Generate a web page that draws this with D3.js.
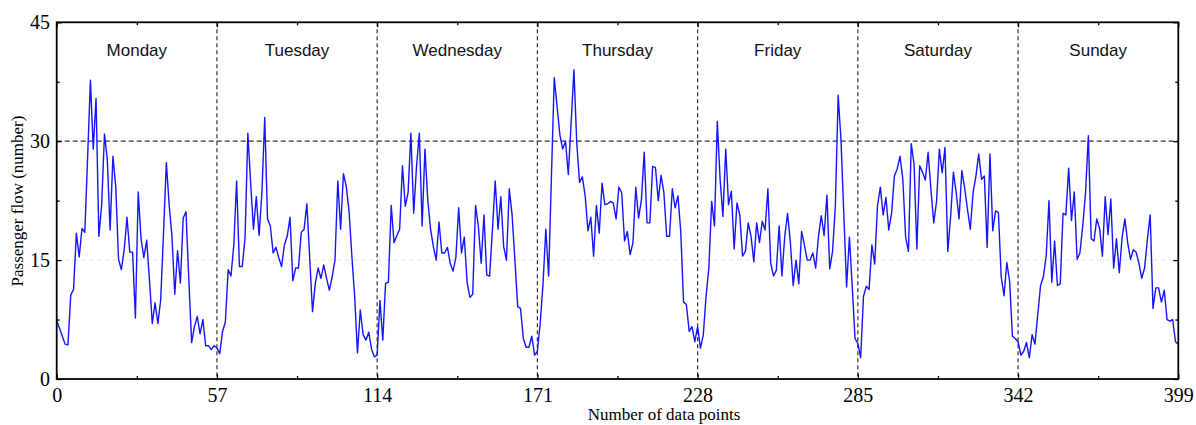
<!DOCTYPE html>
<html>
<head>
<meta charset="utf-8">
<script src="https://cdn.jsdelivr.net/npm/d3@7"></script>
<style>
  html, body { margin: 0; padding: 0; background: #fff; }
  svg { display: block; }
</style>
</head>
<body>
<svg id="chart" width="1196" height="425"></svg>
<script>
// ---- data (passenger flow per data point, grouped by day) ----
const days = ["Monday", "Tuesday", "Wednesday", "Thursday", "Friday", "Saturday", "Sunday"];
const dayStarts = [0, 57, 114, 171, 228, 285, 342];
const dayEnd = 399;

const monday = [7.4,6.4,5.4,4.4,4.3,10.6,11.3,18.4,15.4,19.0,18.5,28.0,37.7,29.0,35.4,18.0,22.0,30.9,27.7,18.8,28.1,24.3,15.1,13.8,16.3,20.4,16.0,16.0,7.7,23.6,17.7,15.3,17.5,12.5,7.0,9.6,7.0,10.0,18.4,27.3,22.0,18.0,10.7,16.2,12.1,20.3,21.1,12.5,4.6,6.6,7.9,5.7,7.5,4.2,4.2,3.7,4.2];
const tuesday = [3.9,3.2,6.0,7.2,13.8,13.0,16.9,25.0,14.2,14.2,17.8,31.0,24.7,18.9,23.0,18.1,23.5,33.0,20.2,19.3,15.9,16.6,15.3,14.2,16.9,18.0,20.4,12.4,14.0,14.0,18.5,18.9,22.1,15.3,8.5,12.1,14.0,12.7,14.4,12.7,11.2,12.9,15.0,25.0,18.9,25.9,24.3,21.2,15.5,10.4,3.3,8.7,5.6,4.9,5.9,3.8,2.8];
const wednesday = [3.0,9.9,4.9,12.1,12.2,21.9,17.2,18.1,18.9,26.9,21.8,23.5,31.0,20.9,26.8,31.0,19.3,29.0,22.6,18.9,16.7,15.0,19.8,15.9,15.9,16.6,14.6,13.6,15.3,21.6,15.9,17.9,12.2,10.3,10.7,21.9,19.3,14.6,20.7,13.1,13.0,18.8,25.0,18.9,23.0,16.7,15.0,24.0,20.7,15.0,9.1,8.9,5.1,4.0,4.0,5.4,3.0];
const thursday = [3.5,7.0,12.0,18.9,13.0,25.6,38.0,34.4,30.8,29.0,30.0,25.8,32.3,39.0,29.8,24.8,25.5,23.1,18.7,20.4,15.5,21.9,18.4,24.7,22.0,22.1,22.4,22.2,20.2,24.2,23.5,17.4,18.6,15.7,17.2,24.2,20.3,22.6,28.6,19.7,19.7,26.8,26.7,22.5,25.7,23.5,18.0,18.0,24.0,21.6,23.1,18.6,9.7,9.4,6.0,6.6,4.7];
const friday = [6.6,3.9,5.5,10.4,14.0,22.4,19.3,32.5,25.2,20.5,29.0,22.0,23.7,16.4,22.2,20.7,15.5,16.1,19.7,18.0,14.8,19.7,17.2,19.9,18.8,24.0,14.6,13.0,13.7,19.3,13.0,18.0,20.9,17.2,11.8,15.0,12.0,18.6,16.9,15.0,15.0,15.9,14.0,18.0,20.6,18.1,23.2,13.9,16.1,21.8,35.8,30.2,20.9,11.6,17.9,11.7,5.1];
const saturday = [4.5,2.7,10.4,11.7,11.3,16.9,14.5,21.9,24.2,20.7,22.9,18.8,20.9,25.6,26.5,28.1,25.2,17.9,16.1,29.7,27.1,16.4,26.9,26.1,25.1,28.6,23.9,19.7,22.4,29.0,26.0,29.2,16.1,20.5,26.1,23.5,20.2,26.3,24.1,21.4,18.9,23.5,25.6,28.4,25.2,25.6,16.6,28.4,18.7,21.2,21.0,12.9,10.5,14.7,12.3,5.4,5.1];
const sunday = [4.7,3.0,3.5,4.6,2.7,5.6,4.4,8.1,11.8,12.9,15.5,22.5,12.2,17.4,11.8,12.0,20.9,20.7,26.6,20.0,23.6,15.1,15.9,19.3,23.5,30.7,17.7,17.4,20.2,19.0,15.5,23.0,18.2,22.7,14.0,17.7,13.4,17.8,20.2,17.2,15.1,16.3,16.0,14.6,12.7,14.0,17.6,20.7,8.9,11.5,11.5,9.7,11.2,7.5,7.3,7.5,4.7,4.4];

const xTicks = [0, 57, 114, 171, 228, 285, 342, 399];
const xMinorTicks = [28.5, 85.5, 142.5, 199.5, 256.5, 313.5, 370.5];
const yTicks = [0, 15, 30, 45];
const yMinorTicks = [7.5, 22.5, 37.5];

const xTitle = "Number of data points";
const yTitle = "Passenger flow (number)";

// ---- build ----
const values = [].concat(monday, tuesday, wednesday, thursday, friday, saturday, sunday);
const series = values.map((v, i) => ({ x: i, y: v }));

const svg = d3.select("#chart");
const L = 56.7, R = 1178.3, T = 22.3, B = 379;

const x = d3.scaleLinear().domain([0, 399]).range([L, R]);
const y = d3.scaleLinear().domain([0, 45]).range([B, T]);

// light grid at 15
svg.append("line")
  .attr("x1", L).attr("x2", R).attr("y1", y(15)).attr("y2", y(15))
  .attr("stroke", "#e2e2e2").attr("stroke-width", 1).attr("stroke-dasharray", "5,3");

// dashed line at 30
svg.append("line")
  .attr("x1", L).attr("x2", R).attr("y1", y(30)).attr("y2", y(30))
  .attr("stroke", "#333").attr("stroke-width", 1.2).attr("stroke-dasharray", "5,3");

// day separators
svg.selectAll("line.sep").data(dayStarts.slice(1)).enter().append("line")
  .attr("class", "sep")
  .attr("x1", d => x(d)).attr("x2", d => x(d))
  .attr("y1", T).attr("y2", B)
  .attr("stroke", "#333").attr("stroke-width", 1.2).attr("stroke-dasharray", "4,3");

// day labels
const bounds = dayStarts.concat([dayEnd]);
svg.selectAll("text.day").data(days).enter().append("text")
  .attr("class", "day")
  .attr("x", (d, i) => x((bounds[i] + bounds[i + 1]) / 2))
  .attr("y", 55.5)
  .attr("text-anchor", "middle")
  .attr("font-family", "Liberation Sans, Arial, sans-serif")
  .attr("font-size", 17)
  .attr("fill", "#111")
  .text(d => d);

// line
const line = d3.line().x(d => x(d.x)).y(d => y(d.y));
svg.append("path")
  .datum(series)
  .attr("d", line)
  .attr("fill", "none")
  .attr("stroke", "#1414ff")
  .attr("stroke-width", 1.4)
  .attr("stroke-linejoin", "round");

// axes (ticks inward)
const serif = "Liberation Serif, Times New Roman, serif";

const gx = svg.append("g").attr("transform", `translate(0,${B})`)
  .call(d3.axisBottom(x).tickValues(xTicks).tickFormat(d3.format("d"))
    .tickSizeInner(-5).tickSizeOuter(0).tickPadding(8.3));
const gxMinor = svg.append("g").attr("transform", `translate(0,${B})`)
  .call(d3.axisBottom(x).tickValues(xMinorTicks).tickFormat("")
    .tickSizeInner(-3).tickSizeOuter(0));
const gxTop = svg.append("g").attr("transform", `translate(0,${T})`)
  .call(d3.axisTop(x).tickValues(xTicks).tickFormat("")
    .tickSizeInner(-5).tickSizeOuter(0));
const gxTopMinor = svg.append("g").attr("transform", `translate(0,${T})`)
  .call(d3.axisTop(x).tickValues(xMinorTicks).tickFormat("")
    .tickSizeInner(-3).tickSizeOuter(0));

const gy = svg.append("g").attr("transform", `translate(${L},0)`)
  .call(d3.axisLeft(y).tickValues(yTicks).tickFormat(d3.format("d"))
    .tickSizeInner(-5).tickSizeOuter(0).tickPadding(6.7));
const gyMinor = svg.append("g").attr("transform", `translate(${L},0)`)
  .call(d3.axisLeft(y).tickValues(yMinorTicks).tickFormat("")
    .tickSizeInner(-3).tickSizeOuter(0));
const gyRight = svg.append("g").attr("transform", `translate(${R},0)`)
  .call(d3.axisRight(y).tickValues(yTicks).tickFormat("")
    .tickSizeInner(-5).tickSizeOuter(0));
const gyRightMinor = svg.append("g").attr("transform", `translate(${R},0)`)
  .call(d3.axisRight(y).tickValues(yMinorTicks).tickFormat("")
    .tickSizeInner(-3).tickSizeOuter(0));

[gx, gxMinor, gxTop, gxTopMinor, gy, gyMinor, gyRight, gyRightMinor].forEach(g => {
  g.select(".domain").remove();
  g.selectAll(".tick line").attr("stroke", "#000").attr("stroke-width", 1.3);
  g.selectAll(".tick text")
    .attr("font-family", serif).attr("font-size", 20).attr("fill", "#000");
});

// frame
svg.append("rect")
  .attr("x", L).attr("y", T).attr("width", R - L).attr("height", B - T)
  .attr("fill", "none").attr("stroke", "#000").attr("stroke-width", 1.8);

// axis titles
svg.append("text")
  .attr("x", 664).attr("y", 420)
  .attr("text-anchor", "middle")
  .attr("font-family", serif).attr("font-size", 17).attr("fill", "#000")
  .text(xTitle);

svg.append("text")
  .attr("transform", `translate(23,201) rotate(-90)`)
  .attr("text-anchor", "middle")
  .attr("font-family", serif).attr("font-size", 17).attr("fill", "#000")
  .text(yTitle);
</script>
</body>
</html>
